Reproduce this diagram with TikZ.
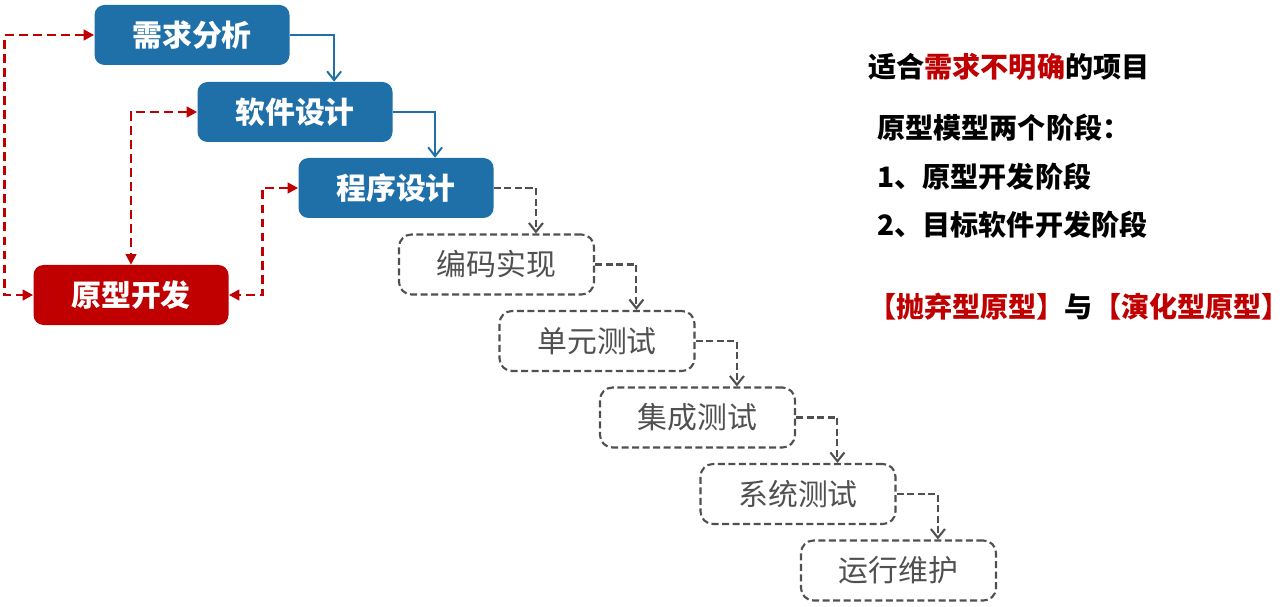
\documentclass[tikz,border=0pt]{standalone}
\usepackage{fontspec}
\setmainfont{Noto Sans CJK SC}
\usetikzlibrary{calc,arrows.meta}
\usepackage{xcolor}
\definecolor{stageblue}{RGB}{31,111,168}
\definecolor{protored}{RGB}{192,0,0}
\definecolor{dashgray}{RGB}{80,80,80}

\begin{document}
\begin{tikzpicture}[
  stage/.style={rectangle,rounded corners=0.2cm,minimum width=3.9cm,minimum height=1.2cm,font=\fontsize{17}{20}\selectfont\bfseries,text=white},
  done/.style={stage,fill=stageblue},
  proto/.style={stage,fill=protored},
  later/.style={rectangle,rounded corners=0.25cm,minimum width=3.9cm,minimum height=1.2cm,draw=dashgray,line width=1.2pt,dash pattern=on 4pt off 2pt,text=dashgray,font=\fontsize{17}{20}\selectfont},
  flow/.style={stageblue,line width=1.1pt,-{Straight Barb[length=5pt,width=8pt]}},
  nextflow/.style={dashgray,line width=1.2pt,dash pattern=on 4pt off 2pt,-{Straight Barb[length=5pt,width=8pt]}},
  back/.style={protored,line width=1.5pt,dash pattern=on 5pt off 3pt,{Triangle[length=6pt,width=6pt]}-{Triangle[length=6pt,width=6pt]}},
  note/.style={anchor=west,inner sep=0pt,font=\fontsize{16}{19}\selectfont\bfseries}
]
\useasboundingbox (0,0) rectangle (25.76,12.12);

\node[done] (req) at (3.84,11.42) {需求分析};
\node[done] (sw) at (5.90,9.88) {软件设计};
\node[done] (prog) at (7.92,8.36) {程序设计};
\node[proto] (proto) at (2.62,6.22) {原型开发};
\foreach \name/\txt [count=\i] in {code/编码实现,unit/单元测试,integ/集成测试,sys/系统测试,ops/运行维护}
  \node[later] (\name) at (7.92+\i*2.01,8.36-\i*1.53) {\txt};

\draw[flow] (req.east) -| ($(sw.north west)!0.7!(sw.north east)$);
\draw[flow] (sw.east) -| ($(prog.north west)!0.7!(prog.north east)$);
\draw[nextflow] (prog.east) -| ($(code.north west)!0.7!(code.north east)$);
\foreach \a/\b in {code/unit,unit/integ,integ/sys,sys/ops}
  \draw[nextflow] (\a.east) -| ($(\b.north west)!0.7!(\b.north east)$);

% back to the prototype
\draw[back] (req.west) -- ++(-1.79,0) |- (proto.west);
\draw[back] (sw.west) -| (proto.north);
\draw[back] (prog.west) -- ++(-0.71,0) |- (proto.east);

\node[note] (fit) at (17.36,10.78) {适合\textcolor{protored}{需求不明确}的项目};
\node[note] (two) at (17.54,9.56) {原型模型两个阶段：};
\node[note] (one) at (17.54,8.58) {1、原型开发阶段};
\node[note] (tgt) at (17.54,7.62) {2、目标软件开发阶段};
\node[note,anchor=center] (kinds) at (21.58,5.98) {\textcolor{protored}{【抛弃型原型】}与\textcolor{protored}{【演化型原型】}};
\end{tikzpicture}
\end{document}
